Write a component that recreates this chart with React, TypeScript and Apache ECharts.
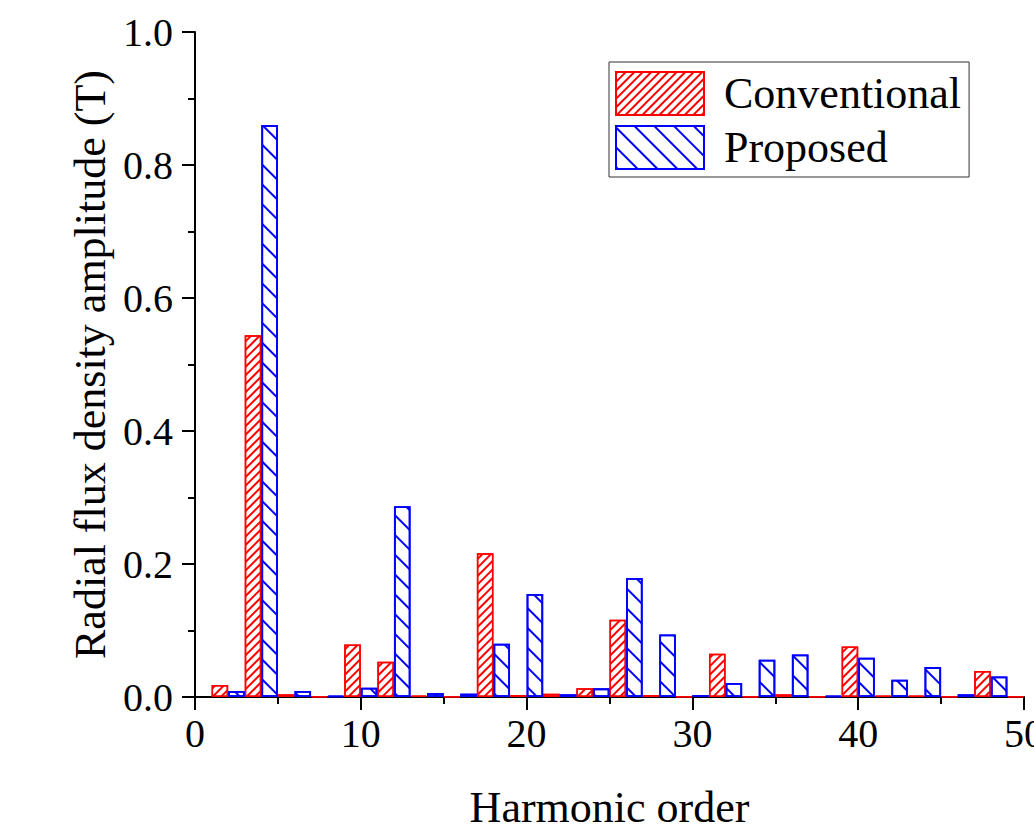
import { useEffect, useRef } from "react";
import * as echarts from "echarts";

const harmonicOrders = [2, 4, 6, 8, 10, 12, 14, 16, 18, 20, 22, 24, 26, 28, 30, 32, 34, 36, 38, 40, 42, 44, 46, 48, 50];
const conventional = [0.018, 0.544, 0.004, 0.001, 0.079, 0.053, 0.002, 0.001, 0.216, 0.003, 0.005, 0.013, 0.116, 0.003, 0.001, 0.065, 0.001, 0.004, 0.001, 0.076, 0.002, 0.002, 0.001, 0.039, 0.001];
const proposed = [0.009, 0.86, 0.009, 0.002, 0.014, 0.287, 0.006, 0.005, 0.08, 0.155, 0.004, 0.013, 0.179, 0.094, 0.003, 0.021, 0.056, 0.064, 0.002, 0.059, 0.026, 0.045, 0.004, 0.031, 0.016];
const seriesNames = ["Conventional", "Proposed"];
const xTitle = "Harmonic order";
const yTitle = "Radial flux density amplitude (T)";
const xMin = 0;
const xMax = 50;

const FONT = '"Liberation Serif", "Times New Roman", serif';

// unit-wide slots [k-1, k] for k = 1..50 on a hidden category axis that spans the same 0..50 range
const slots = Array.from({ length: xMax - xMin }, (_, i) => String(i + 1));

// Conventional bar of harmonic n occupies [n-1, n]; Proposed bar occupies [n, n+1]
function placeSeries(values: number[], shift: number) {
  const arr: (number | string)[] = slots.map(() => "-");
  harmonicOrders.forEach((n, i) => {
    const idx = n - 1 + shift;
    if (idx >= 0 && idx < arr.length) arr[idx] = values[i];
  });
  return arr;
}

export default function App() {
  const ref = useRef<HTMLDivElement>(null);
  useEffect(() => {
    const chart = echarts.init(ref.current!, null, { renderer: "svg" });
    const axisCommon = {
      axisLine: { show: true, onZero: false, lineStyle: { color: "#000", width: 2 } },
      axisTick: { show: true, inside: false, length: 13, lineStyle: { color: "#000", width: 2 } },
      minorTick: { show: true, splitNumber: 2, length: 7, lineStyle: { color: "#000", width: 2 } },
      splitLine: { show: false },
    };
    chart.setOption({
      animation: false,
      backgroundColor: "#ffffff",
      grid: { left: 195, top: 32, right: 10, bottom: 137, containLabel: false, outerBoundsMode: "none" },
      legend: {
        left: 609,
        top: 62,
        orient: "vertical",
        itemWidth: 88,
        itemHeight: 43,
        itemGap: 9,
        padding: [9, 8, 7, 6],
        borderColor: "#333",
        borderWidth: 1,
        icon: "rect",
        textStyle: {
          fontSize: 44,
          lineHeight: 43,
          fontFamily: FONT,
          color: "#000",
          padding: [0, 0, 0, 15],
        },
        data: seriesNames,
      },
      xAxis: [
        {
          type: "value",
          min: xMin,
          max: xMax,
          interval: 10,
          name: xTitle,
          nameLocation: "middle",
          nameGap: 88,
          nameTextStyle: { fontSize: 44, fontFamily: FONT, color: "#000" },
          axisLabel: { fontSize: 40, fontFamily: FONT, color: "#000", margin: 16 },
          ...axisCommon,
        },
        {
          type: "category",
          data: slots,
          boundaryGap: true,
          show: false,
        },
      ],
      yAxis: {
        type: "value",
        min: 0,
        max: 1,
        interval: 0.2,
        name: yTitle,
        nameLocation: "middle",
        nameGap: 81,
        nameRotate: 90,
        nameTextStyle: { fontSize: 44, fontFamily: FONT, color: "#000" },
        axisLabel: {
          fontSize: 40,
          fontFamily: FONT,
          color: "#000",
          margin: 22,
          formatter: (v: number) => v.toFixed(1),
        },
        ...axisCommon,
      },
      series: [
        {
          type: "bar",
          name: seriesNames[0],
          xAxisIndex: 1,
          data: placeSeries(conventional, 0),
          barWidth: "100%",
          barGap: "-100%",
          itemStyle: {
            color: "#ffffff",
            borderColor: "#ff0000",
            borderWidth: 1.5,
            decal: {
              symbol: "rect",
              symbolSize: 1,
              dashArrayX: [1, 0],
              dashArrayY: [1.6, 3.6],
              rotation: -Math.PI / 4,
              color: "#ff0000",
            },
          },
        },
        {
          type: "bar",
          name: seriesNames[1],
          xAxisIndex: 1,
          data: placeSeries(proposed, 1),
          barWidth: "100%",
          barGap: "-100%",
          itemStyle: {
            color: "#ffffff",
            borderColor: "#0000ff",
            borderWidth: 1.8,
            decal: {
              symbol: "rect",
              symbolSize: 1,
              dashArrayX: [1, 0],
              dashArrayY: [2, 11.2],
              rotation: Math.PI / 4,
              color: "#0000ff",
            },
          },
        },
      ],
    });
    return () => chart.dispose();
  }, []);
  return (
    <div
      ref={ref}
      style={{ position: "fixed", left: 0, top: 0, width: 1034, height: 834, background: "#fff" }}
    />
  );
}
